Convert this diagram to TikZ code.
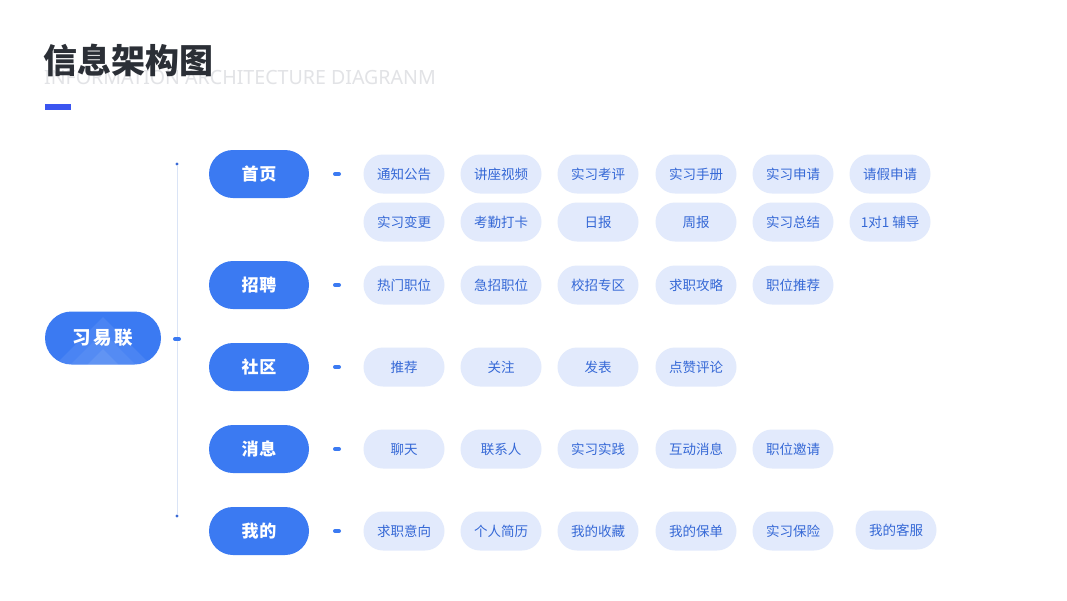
\documentclass[tikz,border=0pt]{standalone}
\usepackage{fontspec}
\setmainfont{Noto Sans CJK SC}
\newfontfamily\latinfont{Noto Sans}
\definecolor{mainblue}{HTML}{3B7AF2}
\definecolor{pillfill}{HTML}{E2EAFC}
\definecolor{pilltext}{HTML}{3568D6}
\definecolor{busline}{HTML}{DAE4F6}
\definecolor{titlecol}{HTML}{2B2F36}
\definecolor{ghostcol}{HTML}{E2E3E6}
\definecolor{barcol}{HTML}{3B55F0}
\definecolor{dotcol}{HTML}{3A6AD6}
\tikzset{
  rootbox/.style={fill=mainblue, rounded corners=26.5pt, minimum width=116pt, minimum height=53pt,
    text=white, font=\fontsize{18.5}{18.5}\selectfont\bfseries\addfontfeature{LetterSpace=14}, inner sep=0pt},
  catbox/.style={fill=mainblue, rounded corners=24pt, minimum width=100pt, minimum height=48pt,
    text=white, font=\fontsize{17}{17}\selectfont\bfseries\addfontfeature{LetterSpace=4}, inner sep=0pt},
  pillbox/.style={fill=pillfill, rounded corners=19.5pt, minimum width=81pt, minimum height=39pt,
    text=pilltext, font=\fontsize{13.5}{13.5}\selectfont, inner sep=0pt},
  stub/.style={draw=mainblue, line width=4pt, line cap=round},
  bus/.style={draw=busline, line width=0.9pt},
  busdot/.style={circle, fill=dotcol, inner sep=0pt, minimum size=3.2pt}
}
\begin{document}
\begin{tikzpicture}[x=1pt,y=-1pt]
\useasboundingbox (0,0) rectangle (1067,600);
\fill[white] (0,0) rectangle (1067,600);

% title
\node[anchor=west, inner sep=0pt, text=ghostcol, font=\latinfont\fontsize{19.6}{19.6}\selectfont] (ghost) at (44,77) {INFORMATION ARCHITECTURE DIAGRANM};
\node[anchor=west, inner sep=0pt, text=titlecol, font=\fontsize{34}{34}\selectfont\bfseries] (title) at (43,60) {信息架构图};
\fill[barcol] (45,104) rectangle (71,110);

% bus
\node[busdot] (bustop) at (177,164) {};
\node[busdot] (busbot) at (177,516) {};
\draw[bus] (bustop) -- (busbot);

% root
\node[rootbox] (root) at (103,338) {习易联};
\begin{scope}
  \clip[rounded corners=26.5pt] (45,311.5) rectangle (161,364.5);
  \fill[white,opacity=0.08] (103,317) -- (155,369) -- (51,369) -- cycle;
  \fill[white,opacity=0.06] (103,332) -- (140,369) -- (66,369) -- cycle;
  \fill[white,opacity=0.08] (103,349) -- (123,369) -- (83,369) -- cycle;
\end{scope}
\coordinate (rs1) at (175,339);
\coordinate (rs2) at (179,339);
\draw[stub] (rs1) -- (rs2);

% categories
\node[catbox] (c1) at (259,174) {首页};
\node[catbox] (c2) at (259,285) {招聘};
\node[catbox] (c3) at (259,367) {社区};
\node[catbox] (c4) at (259,449) {消息};
\node[catbox] (c5) at (259,531) {我的};

\foreach \i/\yy in {1/174,2/285,3/367,4/449,5/531}{
  \coordinate (s\i a) at (335,\yy);
  \coordinate (s\i b) at (339,\yy);
  \draw[stub] (s\i a) -- (s\i b);
}

% items
\node[pillbox] (p11) at (404,174) {通知公告};
\node[pillbox] (p12) at (501,174) {讲座视频};
\node[pillbox] (p13) at (598,174) {实习考评};
\node[pillbox] (p14) at (696,174) {实习手册};
\node[pillbox] (p15) at (793,174) {实习申请};
\node[pillbox] (p16) at (890,174) {请假申请};

\node[pillbox] (p21) at (404,222) {实习变更};
\node[pillbox] (p22) at (501,222) {考勤打卡};
\node[pillbox] (p23) at (598,222) {日报};
\node[pillbox] (p24) at (696,222) {周报};
\node[pillbox] (p25) at (793,222) {实习总结};
\node[pillbox] (p26) at (890,222) {1对1\ 辅导};

\node[pillbox] (p31) at (404,285) {热门职位};
\node[pillbox] (p32) at (501,285) {急招职位};
\node[pillbox] (p33) at (598,285) {校招专区};
\node[pillbox] (p34) at (696,285) {求职攻略};
\node[pillbox] (p35) at (793,285) {职位推荐};

\node[pillbox] (p41) at (404,367) {推荐};
\node[pillbox] (p42) at (501,367) {关注};
\node[pillbox] (p43) at (598,367) {发表};
\node[pillbox] (p44) at (696,367) {点赞评论};

\node[pillbox] (p51) at (404,449) {聊天};
\node[pillbox] (p52) at (501,449) {联系人};
\node[pillbox] (p53) at (598,449) {实习实践};
\node[pillbox] (p54) at (696,449) {互动消息};
\node[pillbox] (p55) at (793,449) {职位邀请};

\node[pillbox] (p61) at (404,531) {求职意向};
\node[pillbox] (p62) at (501,531) {个人简历};
\node[pillbox] (p63) at (598,531) {我的收藏};
\node[pillbox] (p64) at (696,531) {我的保单};
\node[pillbox] (p65) at (793,531) {实习保险};
\node[pillbox] (p66) at (896,530) {我的客服};
\end{tikzpicture}
\end{document}
